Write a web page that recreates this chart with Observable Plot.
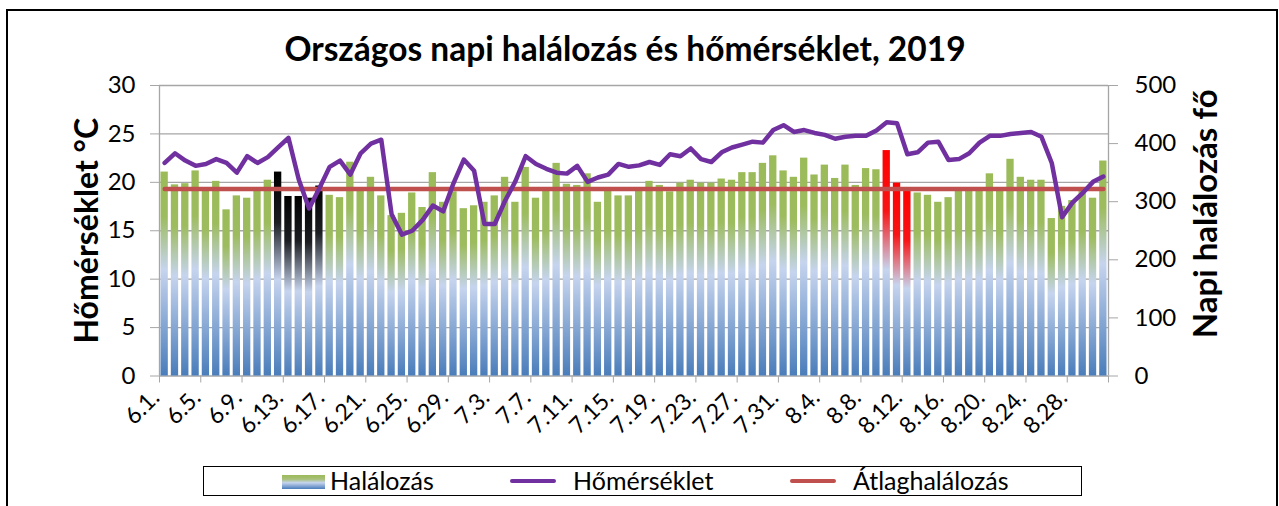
<!DOCTYPE html>
<html>
<head>
<meta charset="utf-8">
<script src="https://cdn.jsdelivr.net/npm/d3@7"></script>
<script src="https://cdn.jsdelivr.net/npm/@observablehq/plot@0.6"></script>
<style>
  html, body { margin: 0; padding: 0; background: #fff; }
  body { font-family: Lato, "Open Sans", sans-serif; width: 1279px; height: 506px; overflow: hidden; position: relative; }
  #frame { position: absolute; left: 6px; top: 9px; width: 1272px; height: 520px; border: 2px solid #000; box-sizing: border-box; }
  #title { position: absolute; left: 0; top: 32px; width: 1250px; text-align: center; font-weight: bold; font-size: 33.5px; line-height: 33px; color: #000; white-space: nowrap; }
  #chart { position: absolute; left: 0; top: 70px; }
  #legend { position: absolute; left: 203px; top: 466px; width: 879px; height: 30px; border: 1.5px solid #000; box-sizing: border-box; font-size: 25px; line-height: 26px; color: #000; }
  #legend .it { position: absolute; top: 0; white-space: nowrap; }
  #legend .sw { position: absolute; }
</style>
</head>
<body>
<div id="frame"></div>
<div id="title">Országos napi halálozás és hőmérséklet, 2019</div>
<div id="chart"></div>
<div id="legend">
  <div class="sw" style="left:78px; top:8px; width:43px; height:14px; background: linear-gradient(to bottom, #9bbb59 0%, #a9c07a 30%, #c6d4ee 55%, #4a7dba 100%);"></div>
  <div class="it" style="left:126px;">Halálozás</div>
  <div class="sw" style="left:306px; top:12px; width:46px; height:4px; background:#7030a0; border-radius:2px;"></div>
  <div class="it" style="left:369px;">Hőmérséklet</div>
  <div class="sw" style="left:586px; top:12px; width:46px; height:4px; background:#c0504d; border-radius:2px;"></div>
  <div class="it" style="left:649px;">Átlaghalálozás</div>
</div>
<script>
// ---- Data ----
const dates = [
  "6.1.","6.2.","6.3.","6.4.","6.5.","6.6.","6.7.","6.8.","6.9.","6.10.",
  "6.11.","6.12.","6.13.","6.14.","6.15.","6.16.","6.17.","6.18.","6.19.","6.20.",
  "6.21.","6.22.","6.23.","6.24.","6.25.","6.26.","6.27.","6.28.","6.29.","6.30.",
  "7.1.","7.2.","7.3.","7.4.","7.5.","7.6.","7.7.","7.8.","7.9.","7.10.",
  "7.11.","7.12.","7.13.","7.14.","7.15.","7.16.","7.17.","7.18.","7.19.","7.20.",
  "7.21.","7.22.","7.23.","7.24.","7.25.","7.26.","7.27.","7.28.","7.29.","7.30.",
  "7.31.","8.1.","8.2.","8.3.","8.4.","8.5.","8.6.","8.7.","8.8.","8.9.",
  "8.10.","8.11.","8.12.","8.13.","8.14.","8.15.","8.16.","8.17.","8.18.","8.19.",
  "8.20.","8.21.","8.22.","8.23.","8.24.","8.25.","8.26.","8.27.","8.28.","8.29.",
  "8.30.","8.31."
];
// Napi halálozás (fő)
const deaths = [
  351,329,331,353,323,335,286,310,306,320,
  337,351,309,309,306,327,311,307,368,323,
  342,310,276,280,315,290,350,299,317,288,
  293,299,310,342,299,359,306,318,366,330,
  328,348,299,321,310,310,318,335,328,317,
  332,337,332,332,339,337,350,350,366,379,
  353,342,375,346,363,340,363,328,357,355,
  388,332,319,315,311,299,307,319,320,320,
  348,319,373,342,337,337,271,292,302,318,
  306,370
];
// Hőmérséklet (°C)
const temperature = [
  22.0,23.0,22.25,21.7,21.9,22.4,22.0,21.0,22.7,22.0,
  22.6,23.6,24.6,20.3,17.3,19.4,21.6,22.25,20.8,23.0,
  24.0,24.4,16.7,14.6,15.0,16.1,17.6,17.0,19.9,22.35,
  21.2,15.7,15.7,18.1,20.1,22.7,21.9,21.4,21.0,20.9,
  21.7,20.05,20.5,20.8,21.9,21.6,21.75,22.1,21.8,22.9,
  22.7,23.5,22.4,22.1,23.1,23.6,23.9,24.2,24.1,25.4,
  25.9,25.2,25.4,25.1,24.9,24.5,24.7,24.8,24.8,25.35,
  26.2,26.1,22.9,23.1,24.1,24.2,22.3,22.4,23.0,24.1,
  24.8,24.8,25.0,25.1,25.2,24.7,22.0,16.4,17.9,18.9,
  20.05,20.6
];
const avgDeaths = 322;                       // Átlaghalálozás
const darkDays = ["6.12.","6.13.","6.14.","6.15.","6.16."];
const redDays = ["8.10.","8.11.","8.12."];
const dateTicks = ["6.1.","6.5.","6.9.","6.13.","6.17.","6.21.","6.25.","6.29.","7.3.","7.7.","7.11.","7.15.","7.19.","7.23.","7.27.","7.31.","8.4.","8.8.","8.12.","8.16.","8.20.","8.24.","8.28."];
const tempTicks = [0, 5, 10, 15, 20, 25, 30];
const deathTicks = [0, 100, 200, 300, 400, 500];
const tempMax = 30, deathMax = 500;

// ---- Build ----
const k = tempMax / deathMax;   // map deaths onto the temperature axis
const rows = dates.map((d, i) => ({i, date: d, deaths: deaths[i], temp: temperature[i]}));
const isDark = d => darkDays.includes(d.date);
const isRed = d => redDays.includes(d.date);
const boundaryTicks = d3.range(0, dates.length + 1, 4);
const font = "Lato, 'Open Sans', sans-serif";
const grid = "#a6a6a6";

const bar = (filter, fill) => Plot.rectY(rows.filter(filter), {
  x1: d => d.i, x2: d => d.i + 1, y1: () => 0, y2: d => d.deaths * k,
  insetLeft: 1.5, insetRight: 1.5, fill
});

const svg = Plot.plot({
  width: 1279, height: 390,
  marginLeft: 159, marginRight: 171, marginTop: 15, marginBottom: 84.5,
  x: {domain: [0, dates.length], axis: null},
  y: {domain: [0, tempMax], axis: null},
  style: {fontFamily: font, background: "transparent", color: "#000", overflow: "visible"},
  marks: [
    Plot.gridY(tempTicks, {stroke: grid, strokeOpacity: 1, strokeWidth: 1.3}),
    Plot.axisY({anchor: "left", ticks: tempTicks, tickSize: 9, tickPadding: 15, stroke: grid, strokeOpacity: 1, fill: "#000", fontSize: 24, label: null}),
    Plot.axisY({anchor: "right", ticks: deathTicks.map(v => v * k), tickFormat: v => Math.round(v / k), tickSize: 9, tickPadding: 17, stroke: grid, strokeOpacity: 1, fill: "#000", fontSize: 24, label: null}),
    Plot.axisX({ticks: boundaryTicks, tickFormat: () => "", tickSize: 7, stroke: grid, strokeOpacity: 1, label: null}),
    Plot.ruleX([0, dates.length], {stroke: grid, strokeWidth: 1.3}),
    bar(d => !isDark(d) && !isRed(d), "url(#gGreen)"),
    bar(isDark, "url(#gDark)"),
    bar(isRed, "url(#gRed)"),
    Plot.line(rows, {x: d => d.i + 0.5, y: () => avgDeaths * k, stroke: "#c0504d", strokeWidth: 4.5}),
    Plot.line(rows, {x: d => d.i + 0.5, y: "temp", stroke: "#7030a0", strokeWidth: 4.5, strokeLinejoin: "round", strokeLinecap: "round"}),
    Plot.text(dateTicks, {x: d => dates.indexOf(d) + 0.5, y: () => 0, text: d => d, rotate: -45, textAnchor: "end", lineAnchor: "middle", dx: -9, dy: 18, fontSize: 23, fill: "#000"}),
    Plot.text(["Hőmérséklet °C"], {frameAnchor: "left", text: d => d, rotate: -90, textAnchor: "middle", dx: -72, fontSize: 32, fontWeight: "bold", fill: "#000"}),
    Plot.text(["Napi halálozás fő"], {frameAnchor: "right", text: d => d, rotate: -90, textAnchor: "middle", dx: 98, dy: -17, fontSize: 33, fontWeight: "bold", fill: "#000"})
  ]
});

svg.insertAdjacentHTML("afterbegin", `
<defs>
  <linearGradient id="gGreen" x1="0" y1="0" x2="0" y2="1">
    <stop offset="0" stop-color="#9bbb59"/>
    <stop offset="0.22" stop-color="#9dbc5e"/>
    <stop offset="0.48" stop-color="#c6d4ee"/>
    <stop offset="1" stop-color="#4a7dba"/>
  </linearGradient>
  <linearGradient id="gDark" x1="0" y1="0" x2="0" y2="1">
    <stop offset="0" stop-color="#000000"/>
    <stop offset="0.25" stop-color="#1c1e22"/>
    <stop offset="0.53" stop-color="#c6d4ee"/>
    <stop offset="1" stop-color="#4a7dba"/>
  </linearGradient>
  <linearGradient id="gRed" x1="0" y1="0" x2="0" y2="1">
    <stop offset="0" stop-color="#ff0000"/>
    <stop offset="0.27" stop-color="#f81414"/>
    <stop offset="0.53" stop-color="#c6d4ee"/>
    <stop offset="1" stop-color="#4a7dba"/>
  </linearGradient>
</defs>`);

document.getElementById("chart").appendChild(svg);
</script>
</body>
</html>
